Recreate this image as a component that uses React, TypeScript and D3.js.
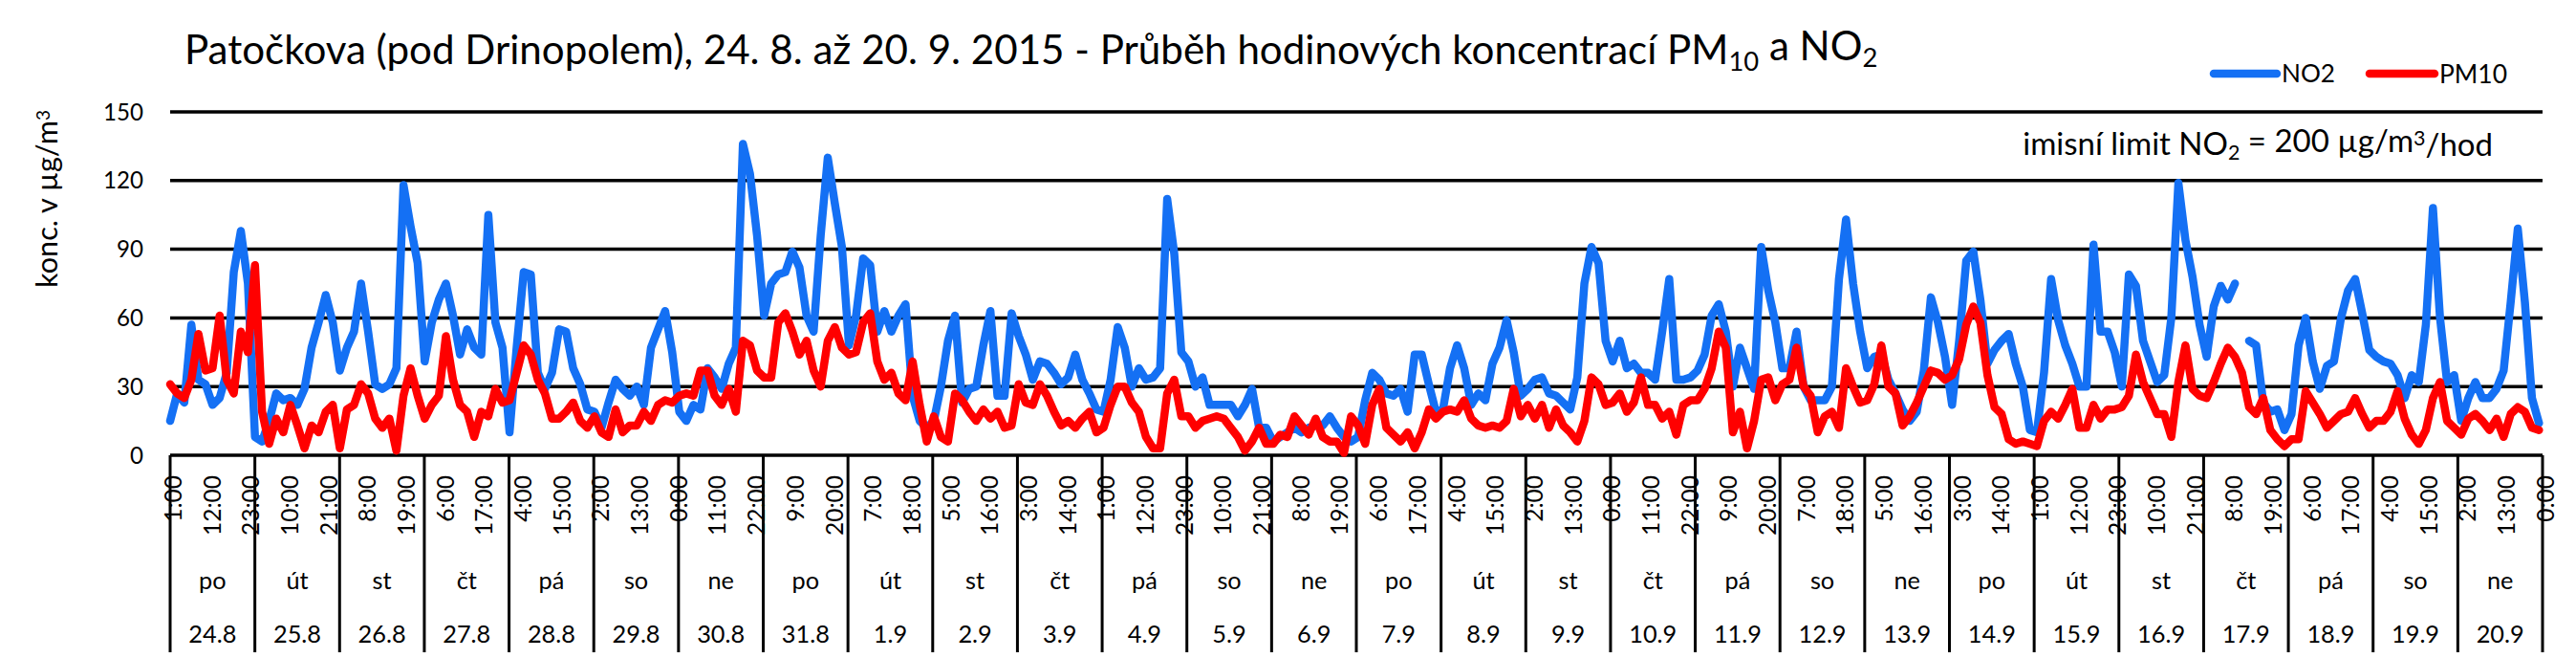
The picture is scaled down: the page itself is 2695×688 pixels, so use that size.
import { useEffect, useRef } from 'react'
import * as d3 from 'd3'

const W = 2695
const H = 688
const MARGIN = { left: 178, right: 2660, top: 117, bottom: 476 }

// one value every 2 hours, first sample = 1:00 on 24.8, one row per day
const NO2: (number | null)[] = [
  15, 27, 23, 57, 33, 31, 22, 25, 36, 80, 98, 75,
  8, 6, 15, 27, 24, 25, 22, 29, 47, 58, 70, 58,
  37, 47, 54, 75, 54, 31, 29, 31, 38, 118, 100, 84,
  41, 58, 68, 75, 61, 44, 55, 47, 44, 105, 58, 47,
  10, 47, 80, 79, 36, 29, 36, 55, 54, 38, 31, 20,
  19, 12, 23, 33, 29, 26, 30, 22, 47, 55, 63, 45,
  19, 15, 22, 20, 38, 34, 29, 40, 47, 136, 123, 96,
  61, 75, 79, 80, 89, 82, 61, 54, 96, 130, 110, 91,
  48, 61, 86, 83, 54, 63, 54, 61, 66, 26, 15, 12,
  15, 30, 50, 61, 23, 29, 30, 48, 63, 26, 26, 62,
  52, 44, 33, 41, 40, 36, 31, 34, 44, 33, 27, 20,
  19, 33, 56, 47, 30, 38, 33, 34, 38, 112, 88, 45,
  41, 30, 34, 22, 22, 22, 22, 17, 22, 29, 12, 12,
  6, 8, 10, 12, 10, 12, 13, 13, 17, 12, 8, 6,
  8, 24, 36, 33, 27, 26, 29, 19, 44, 44, 31, 19,
  20, 38, 48, 38, 22, 27, 24, 40, 47, 59, 45, 26,
  29, 33, 34, 27, 26, 23, 20, 34, 75, 91, 84, 50,
  41, 50, 38, 40, 36, 36, 33, 54, 77, 33, 33, 34,
  37, 44, 61, 66, 54, 30, 47, 38, 29, 91, 72, 58,
  38, 38, 54, 30, 24, 24, 24, 30, 77, 103, 75, 54,
  38, 43, 44, 33, 27, 20, 15, 19, 37, 69, 58, 43,
  22, 50, 85, 89, 68, 40, 46, 50, 53, 40, 30, 11,
  10, 36, 77, 59, 48, 40, 30, 30, 92, 54, 54, 45,
  30, 79, 74, 50, 41, 32, 35, 60, 119, 94, 78, 57,
  43, 65, 74, 68, 75, null, 50, 48, 23, 19, 20, 11,
  18, 48, 60, 41, 29, 39, 41, 60, 72, 77, 62, 46,
  43, 41, 40, 35, 25, 35, 32, 57, 108, 60, 32, 35,
  15, 25, 32, 25, 25, 29, 37, 67, 99, 67, 25, 14,
]

const PM10: (number | null)[] = [
  31, 27, 25, 33, 53, 37, 38, 61, 33, 27, 54, 45,
  83, 19, 5, 16, 10, 22, 13, 3, 13, 10, 19, 22,
  3, 20, 22, 31, 27, 16, 12, 16, 2, 26, 38, 26,
  16, 22, 26, 52, 33, 22, 19, 8, 19, 17, 29, 23,
  24, 36, 48, 44, 33, 27, 16, 16, 19, 23, 15, 12,
  17, 10, 8, 20, 10, 13, 13, 19, 15, 22, 24, 23,
  26, 27, 26, 37, 37, 26, 22, 29, 19, 50, 48, 37,
  34, 34, 58, 62, 54, 44, 50, 37, 30, 50, 56, 47,
  44, 45, 58, 62, 41, 33, 36, 27, 24, 41, 22, 6,
  17, 8, 6, 27, 24, 19, 15, 20, 16, 19, 12, 13,
  31, 23, 22, 31, 26, 19, 13, 15, 12, 16, 19, 10,
  12, 22, 30, 30, 23, 19, 8, 3, 3, 27, 33, 17,
  17, 12, 15, 16, 17, 16, 12, 8, 2, 6, 12, 5,
  5, 9, 8, 17, 13, 9, 16, 8, 6, 6, 1, 17,
  13, 5, 22, 29, 12, 9, 6, 10, 3, 10, 20, 16,
  19, 20, 19, 24, 16, 13, 12, 13, 12, 15, 29, 17,
  22, 16, 22, 12, 20, 13, 10, 6, 15, 34, 31, 22,
  23, 27, 19, 23, 34, 22, 22, 16, 19, 9, 22, 24,
  24, 29, 38, 54, 47, 10, 19, 3, 15, 33, 34, 24,
  31, 33, 47, 30, 26, 10, 17, 19, 12, 38, 30, 23,
  24, 31, 48, 30, 27, 13, 17, 23, 30, 37, 36, 33,
  35, 42, 57, 65, 58, 35, 21, 18, 7, 5, 6, 5,
  4, 15, 19, 16, 22, 29, 12, 12, 22, 16, 20, 20,
  21, 26, 44, 32, 25, 18, 18, 8, 32, 48, 29, 26,
  25, 32, 40, 47, 43, 36, 21, 18, 25, 11, 7, 4,
  7, 7, 28, 23, 18, 12, 15, 18, 19, 25, 18, 12,
  15, 15, 19, 28, 16, 9, 5, 11, 25, 32, 15, 12,
  9, 16, 18, 15, 11, 16, 8, 18, 21, 19, 12, 11,
]

const DAY_NAMES = [
  'po', 'út', 'st', 'čt', 'pá', 'so', 'ne',
  'po', 'út', 'st', 'čt', 'pá', 'so', 'ne',
  'po', 'út', 'st', 'čt', 'pá', 'so', 'ne',
  'po', 'út', 'st', 'čt', 'pá', 'so', 'ne',
]
const DATES = [
  '24.8', '25.8', '26.8', '27.8', '28.8', '29.8', '30.8', '31.8', '1.9', '2.9', '3.9', '4.9', '5.9', '6.9',
  '7.9', '8.9', '9.9', '10.9', '11.9', '12.9', '13.9', '14.9', '15.9', '16.9', '17.9', '18.9', '19.9', '20.9',
]
const Y_TICKS = [0, 30, 60, 90, 120, 150]
const HOUR_STEP = 2 // hours between samples
const LAST_HOUR = 671 // 0:00 on 21.9
const LABEL_EVERY = 11 // hour tick label interval

const FONT = 'Lato, "Open Sans", sans-serif'
const BLUE = '#1470f4'
const RED = '#ff0000'

type TextSel = d3.Selection<SVGTextElement, unknown, null, undefined>

// Calibri isn't available, so scale the substitute font until a sample text
// reaches the width it has in the original picture.
function fitWidth(sel: TextSel, target: number) {
  const node = sel.node()
  if (!node) return 0
  const w = node.getComputedTextLength()
  const fs = parseFloat(sel.attr('font-size'))
  if (w > 0) sel.attr('font-size', (fs * target) / w)
  return w > 0 ? (fs * target) / w : fs
}

function draw(svgEl: SVGSVGElement) {
  const svg = d3.select(svgEl)
  svg.selectAll('*').remove()

  const x = d3.scaleLinear().domain([0, LAST_HOUR]).range([MARGIN.left, MARGIN.right])
  const xDay = d3.scaleLinear().domain([0, DATES.length]).range([MARGIN.left, MARGIN.right])
  const y = d3.scaleLinear().domain([0, 150]).range([MARGIN.bottom, MARGIN.top])

  const text = (px: number, py: number, size: number) =>
    svg.append('text')
      .attr('x', px).attr('y', py)
      .attr('font-family', FONT).attr('font-size', size).attr('fill', '#000') as unknown as TextSel

  // title
  const title = text(193, 67, 40)
  title.append('tspan').text('Patočkova (pod Drinopolem), 24. 8. až 20. 9. 2015 - Průběh hodinových koncentrací PM')
  title.append('tspan').attr('dy', '0.25em').attr('font-size', '0.65em').text('10')
  title.append('tspan').attr('dy', '-0.25em').text(' a NO')
  title.append('tspan').attr('dy', '0.25em').attr('font-size', '0.65em').text('2')
  fitWidth(title, 1772)

  // legend
  const legend = [
    { name: 'NO2', color: BLUE, x0: 2316, x1: 2382, w: 56 },
    { name: 'PM10', color: RED, x0: 2479, x1: 2547, w: 71 },
  ]
  legend.forEach((l) => {
    svg.append('line')
      .attr('x1', l.x0).attr('x2', l.x1).attr('y1', 77).attr('y2', 77)
      .attr('stroke', l.color).attr('stroke-width', 8.5).attr('stroke-linecap', 'round')
    const t = text(l.x1 + 5, 77, 25).attr('dy', '0.36em').text(l.name)
    fitWidth(t, l.w)
  })

  // y axis title
  const yt = svg.append('text')
    .attr('transform', 'translate(60,208) rotate(-90)')
    .attr('text-anchor', 'middle')
    .attr('font-family', FONT).attr('font-size', 26) as unknown as TextSel
  yt.append('tspan').text('konc. v µg/m')
  yt.append('tspan').attr('dy', '-0.4em').attr('font-size', '0.62em').text('3')
  fitWidth(yt, 186)

  // gridlines + tick labels
  let tickSize = 0
  Y_TICKS.forEach((t) => {
    svg.append('line')
      .attr('x1', MARGIN.left).attr('x2', MARGIN.right)
      .attr('y1', y(t)).attr('y2', y(t))
      .attr('stroke', '#000').attr('stroke-width', 3.5)
    const lbl = text(150, y(t), 25).attr('dy', '0.36em').attr('text-anchor', 'end').attr('class', 'ytick').text(t)
    if (t === 150) tickSize = fitWidth(lbl, 42)
  })
  svg.selectAll('text.ytick').attr('font-size', tickSize)

  // limit note
  const note = text(2608, 162, 30).attr('text-anchor', 'end')
  note.append('tspan').text('imisní limit NO')
  note.append('tspan').attr('dy', '0.25em').attr('font-size', '0.65em').text('2')
  note.append('tspan').attr('dy', '-0.25em').text(' = 200 µg/m')
  note.append('tspan').attr('dy', '-0.35em').attr('font-size', '0.65em').text('3')
  note.append('tspan').attr('dy', '0.35em').text('/hod')
  fitWidth(note, 492)

  // day separators below the axis
  d3.range(DATES.length + 1).forEach((d) => {
    svg.append('line')
      .attr('x1', xDay(d)).attr('x2', xDay(d))
      .attr('y1', MARGIN.bottom).attr('y2', 682)
      .attr('stroke', '#000').attr('stroke-width', 3)
  })

  // hour labels, every 11th hour
  const probe = text(0, -100, 25).text('12:00')
  const hourSize = fitWidth(probe, 63)
  probe.remove()
  d3.range(0, LAST_HOUR + 1, LABEL_EVERY).forEach((h) => {
    svg.append('text')
      .attr('transform', `translate(${x(h) + 3},497) rotate(-90)`)
      .attr('dy', '0.36em')
      .attr('text-anchor', 'end')
      .attr('font-family', FONT).attr('font-size', hourSize)
      .text(`${(h + 1) % 24}:00`)
  })

  // day names and dates
  const probeDate = text(0, -100, 25).text('24.8')
  const dateSize = fitWidth(probeDate, 50)
  probeDate.remove()
  DATES.forEach((dt, i) => {
    const cx = (xDay(i) + xDay(i + 1)) / 2
    text(cx, 607, dateSize).attr('dy', '0.36em').attr('text-anchor', 'middle').text(DAY_NAMES[i])
    text(cx, 663, dateSize).attr('dy', '0.36em').attr('text-anchor', 'middle').text(dt)
  })

  // series, PM10 drawn over NO2
  const series = [
    { values: NO2, color: BLUE },
    { values: PM10, color: RED },
  ]
  const line = d3.line<number | null>()
    .defined((d) => d !== null)
    .x((_, i) => x(i * HOUR_STEP))
    .y((d) => y(d as number))
  series.forEach((s) => {
    svg.append('path')
      .datum(s.values)
      .attr('d', line)
      .attr('fill', 'none')
      .attr('stroke', s.color)
      .attr('stroke-width', 8.5)
      .attr('stroke-linejoin', 'round')
      .attr('stroke-linecap', 'round')
  })
}

export default function App() {
  const svgRef = useRef<SVGSVGElement>(null)

  useEffect(() => {
    if (!svgRef.current) return
    const el = svgRef.current
    draw(el)
    // redo once the local fonts are surely in, the text fitting depends on them
    document.fonts?.ready.then(() => draw(el))
  }, [])

  return (
    <svg
      ref={svgRef}
      width={W}
      height={H}
      style={{ position: 'absolute', left: 0, top: 0, background: '#fff' }}
    />
  )
}
